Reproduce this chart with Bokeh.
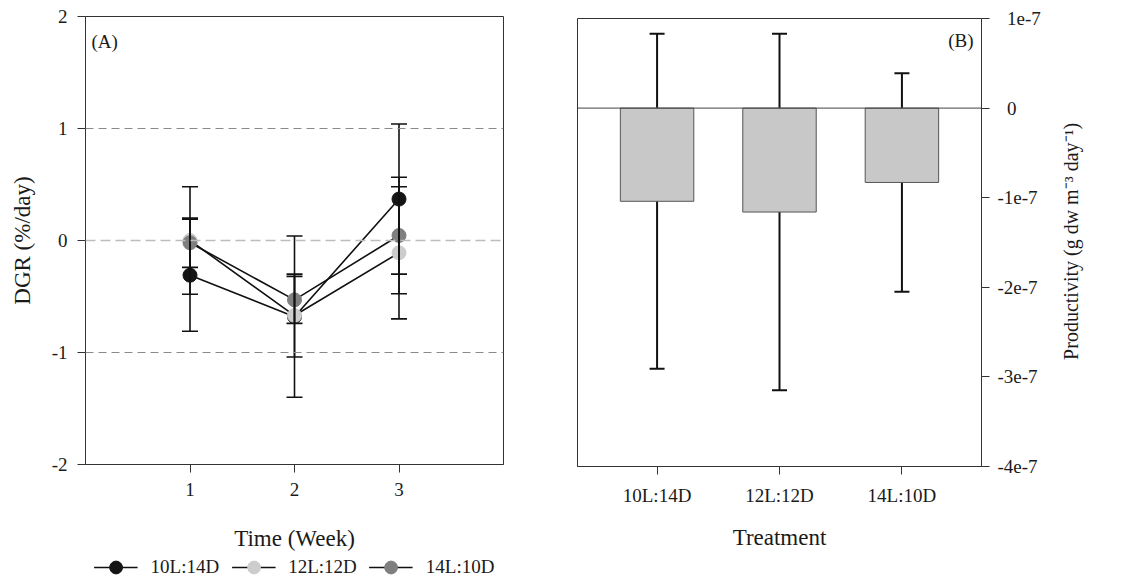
import math
from bokeh.plotting import figure
from bokeh.models import (ColumnDataSource, Whisker, TeeHead, Span, Label, Legend, LegendItem,
                          FixedTicker, CustomJSTickFormatter, FactorRange, Range1d)
from bokeh.core.properties import value
from bokeh.layouts import row, column
from bokeh.embed import file_html
from bokeh.resources import INLINE

# ---------------- data ----------------
weeks = [1, 2, 3]
series_names = ["10L:14D", "12L:12D", "14L:10D"]
dgr_10L = [-0.31, -0.68, 0.37]
dgr_12L = [0.00, -0.67, -0.11]
dgr_14L = [-0.02, -0.53, 0.045]
err_10L = [0.50, 0.72, 0.67]
err_12L = [0.48, 0.37, 0.59]
err_14L = [0.22, 0.21, 0.52]
series_colors = ["#151515", "#cccccc", "#7f7f7f"]
dgr_ticks = [-2, -1, 0, 1, 2]
ref_lines = [-1, 0, 1]

treatments = ["10L:14D", "12L:12D", "14L:10D"]
productivity = [-1.04e-7, -1.16e-7, -0.83e-7]
productivity_err = [1.87e-7, 1.99e-7, 1.22e-7]
prod_ticks = [-4e-7, -3e-7, -2e-7, -1e-7, 0, 1e-7]
prod_label = "Productivity (g dw m\u207b\u00b3 day\u207b\u00b9)"

FONT = "Liberation Serif"
TXT = "#1a1a1a"
TICK_FS = "19px"
TITLE_FS = "23px"


def style_axis(ax):
    ax.major_label_text_font = FONT
    ax.major_label_text_font_size = TICK_FS
    ax.major_label_text_color = TXT
    ax.axis_label_text_font = FONT
    ax.axis_label_text_font_size = TITLE_FS
    ax.axis_label_text_font_style = "normal"
    ax.axis_label_text_color = TXT
    ax.major_tick_out = 8
    ax.major_tick_in = 0
    ax.minor_tick_out = 0
    ax.minor_tick_in = 0
    ax.axis_line_color = "#333333"
    ax.major_tick_line_color = "#333333"
    ax.major_label_standoff = 10


def clean(p):
    p.grid.visible = False
    p.background_fill_color = "white"
    p.border_fill_color = "white"


# ---------------- panel A ----------------
pA = figure(width=545, height=555, x_range=Range1d(0, 4), y_range=Range1d(-2, 2),
            output_backend="svg", toolbar_location=None,
            min_border_left=85, min_border_right=42, min_border_top=16, min_border_bottom=91)
clean(pA)
pA.outline_line_color = "#333333"
pA.outline_line_width = 1

for v in ref_lines:
    if v == 0:
        pA.add_layout(Span(location=v, dimension="width", line_color="#bdbdbd",
                           line_width=1.6, line_dash="10 5"))
    else:
        pA.add_layout(Span(location=v, dimension="width", line_color="#8a8a8a",
                           line_width=1, line_dash="8 5"))

style_axis(pA.xaxis[0])
style_axis(pA.yaxis[0])
pA.xaxis.ticker = FixedTicker(ticks=weeks)
pA.yaxis.ticker = FixedTicker(ticks=dgr_ticks)
pA.yaxis.formatter = CustomJSTickFormatter(code="return tick.toString();")
pA.xaxis.axis_label = "Time (Week)"
pA.yaxis.axis_label = "DGR (%/day)"
pA.xaxis.axis_label_standoff = 27
pA.yaxis.axis_label_standoff = 14

# legend strip under panel A (its y range keeps the shared data out of view,
# so only the legend glyphs show)
pLeg = figure(width=545, height=24, x_range=Range1d(0, 4), y_range=Range1d(10, 11),
              x_axis_location=None, y_axis_location=None,
              output_backend="svg", toolbar_location=None,
              min_border_left=85, min_border_right=42, min_border_top=0, min_border_bottom=0)
clean(pLeg)
pLeg.outline_line_color = None

items = []
for name, vals, errs, col in zip(series_names, [dgr_10L, dgr_12L, dgr_14L],
                                 [err_10L, err_12L, err_14L], series_colors):
    src = ColumnDataSource(dict(x=weeks, y=vals,
                                upper=[v + e for v, e in zip(vals, errs)],
                                lower=[v - e for v, e in zip(vals, errs)]))
    pA.add_layout(Whisker(base="x", upper="upper", lower="lower", source=src,
                          line_color="#111111", line_width=1.6, level="glyph",
                          upper_head=TeeHead(size=16, line_color="#111111", line_width=1.6),
                          lower_head=TeeHead(size=16, line_color="#111111", line_width=1.6)))
    pA.line("x", "y", source=src, line_color="#111111", line_width=1.6)
    pA.scatter("x", "y", source=src, size=14, fill_color=col, line_color=col)
    lr = pLeg.line("x", "y", source=src, line_color="#111111", line_width=1.6)
    sr = pLeg.scatter("x", "y", source=src, size=14, fill_color=col, line_color=col)
    items.append(LegendItem(label=name, renderers=[lr, sr]))

legend = Legend(items=items, orientation="horizontal", location="center",
                border_line_alpha=0, background_fill_alpha=0,
                label_text_font=FONT, label_text_font_size=TICK_FS, label_text_color=TXT,
                glyph_width=44, glyph_height=32, label_standoff=13, spacing=12,
                padding=0, margin=0)
pLeg.add_layout(legend)

pA.add_layout(Label(x=0.057, y=1.78, text="(A)", text_font=FONT, text_font_size=TICK_FS,
                    text_color=TXT, text_align="left", text_baseline="middle"))

# ---------------- panel B ----------------
pB = figure(width=498, height=579,
            x_range=FactorRange(*treatments, range_padding=0.15, range_padding_units="absolute"),
            y_range=Range1d(-4e-7, 1e-7), y_axis_location="right",
            output_backend="svg", toolbar_location=None,
            min_border_left=32, min_border_right=60, min_border_top=18, min_border_bottom=113)
clean(pB)
pB.outline_line_color = "#333333"
pB.outline_line_width = 1

style_axis(pB.xaxis[0])
style_axis(pB.yaxis[0])
pB.yaxis.ticker = FixedTicker(ticks=prod_ticks)
pB.yaxis.formatter = CustomJSTickFormatter(
    code="if (Math.abs(tick) < 1e-12) { return '\u2007' + '0'; }"
         " var n = Math.round(tick * 1e7); return (n < 0 ? '' : '\u2007') + n + 'e-7';")
pB.yaxis.major_label_standoff = 8
pB.xaxis.axis_label = "Treatment"
pB.xaxis.axis_label_standoff = 16
pB.xaxis.major_label_standoff = 10

bsrc = ColumnDataSource(dict(x=treatments, top=productivity,
                             upper=[v + e for v, e in zip(productivity, productivity_err)],
                             lower=[v - e for v, e in zip(productivity, productivity_err)]))
pB.vbar(x="x", top="top", bottom=0, width=0.6, source=bsrc,
        fill_color="#c8c8c8", line_color="#555555", line_width=1)
pB.add_layout(Span(location=0, dimension="width", line_color="#444444", line_width=1))
pB.add_layout(Whisker(base="x", upper="upper", lower="lower", source=bsrc,
                      line_color="#111111", line_width=2,
                      upper_head=TeeHead(size=15, line_color="#111111", line_width=2),
                      lower_head=TeeHead(size=15, line_color="#111111", line_width=2)))

pB.add_layout(Label(x=3.085, y=0.755e-7, text="(B)", text_font=FONT, text_font_size=TICK_FS,
                    text_color=TXT, text_align="right", text_baseline="middle"))

# ---------------- right-hand axis title (reads bottom to top) ----------------
pL = figure(width=95, height=579, x_range=Range1d(0, 95), y_range=Range1d(0, 579),
            x_axis_location=None, y_axis_location=None,
            output_backend="svg", toolbar_location=None, min_border=0)
clean(pL)
pL.outline_line_color = None
pL.text(x=[27], y=[291], text=[prod_label], angle=math.pi / 2,
        text_font=value(FONT), text_font_size="20px", text_color=TXT,
        text_align="center", text_baseline="middle")

layout = row(column(pA, pLeg), pB, pL)
open("out.html", "w").write(file_html(layout, INLINE))
